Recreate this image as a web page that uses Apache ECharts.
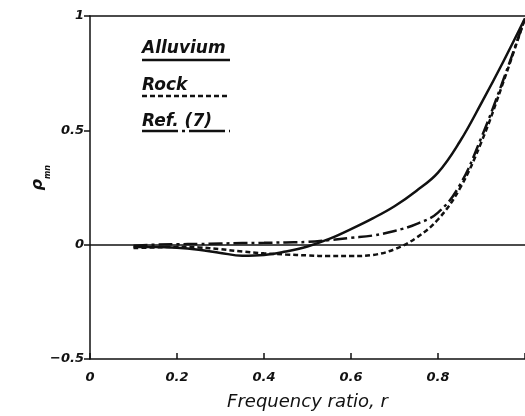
<!DOCTYPE html>
<html><head><meta charset="utf-8">
<script src="https://cdn.jsdelivr.net/npm/echarts@6/dist/echarts.min.js"></script>
<style>html,body{margin:0;padding:0;background:#fff}#c{width:525px;height:416px}</style>
</head><body><div id="c"></div>
<script>
const r = [0.1,0.15,0.2,0.25,0.3,0.35,0.4,0.45,0.5,0.55,0.6,0.65,0.7,0.75,0.8,0.85,0.9,0.95,1.0];
const alluvium = [-0.01,-0.01,-0.013,-0.022,-0.036,-0.048,-0.045,-0.03,-0.008,0.025,0.068,0.115,0.168,0.235,0.315,0.45,0.62,0.8,0.99];
const rock = [-0.015,-0.012,-0.01,-0.012,-0.02,-0.03,-0.038,-0.043,-0.047,-0.05,-0.05,-0.045,-0.02,0.03,0.11,0.245,0.45,0.71,0.99];
const ref7 = [-0.005,0,0.002,0.003,0.005,0.007,0.008,0.01,0.012,0.02,0.03,0.04,0.06,0.09,0.14,0.26,0.47,0.72,0.99];
const xTicks = ['0','0.2','0.4','0.6','0.8'];
const yTicks = {'-0.5':'\u22120.5','0':'0','0.5':'0.5','1':'1'};

const pair = a => r.map((x,i)=>[x,a[i]]);
const F = '"DejaVu Sans", sans-serif';
const chart = echarts.init(document.getElementById('c'));
const lblStyle = {fontFamily:F, fontStyle:'italic', fontWeight:'bold', fontSize:13, color:'#111'};
chart.setOption({
  animation:false,
  grid:{left:90, right:0, top:16, bottom:57, containLabel:false, outerBoundsMode:'none'},
  xAxis:[{type:'value', min:0, max:1, interval:0.2,
    axisLine:{onZero:false, lineStyle:{color:'#111', width:1.5}},
    axisTick:{inside:true, length:6, lineStyle:{color:'#111', width:1.5}},
    axisLabel:Object.assign({margin:12, formatter:v=>{const i=Math.round(v/0.2);return i<xTicks.length?xTicks[i]:'';}}, lblStyle),
    splitLine:{show:false},
    name:'Frequency ratio, r', nameLocation:'middle', nameGap:34,
    nameTextStyle:{fontFamily:F, fontStyle:'italic', fontSize:18, color:'#111'}},
   {type:'value', position:'top', min:0, max:1, axisLine:{show:true, onZero:false, lineStyle:{color:'#111', width:1.5}},
    axisTick:{show:false}, axisLabel:{show:false}, splitLine:{show:false}}],
  yAxis:{type:'value', min:-0.5, max:1, interval:0.5,
    axisLine:{onZero:false, lineStyle:{color:'#111', width:1.5}},
    axisTick:{length:6, lineStyle:{color:'#111', width:1.5}},
    axisLabel:Object.assign({margin:6, formatter:v=>yTicks[String(v)]||''}, lblStyle),
    splitLine:{show:false}},
  graphic:[
    {type:'text', left:30, top:165, rotation:Math.PI/2, style:{
      rich:{a:{fontFamily:F, fontStyle:'italic', fontWeight:'bold', fontSize:16, fill:'#111'},
            b:{fontFamily:F, fontStyle:'italic', fontWeight:'bold', fontSize:8, fill:'#111', verticalAlign:'bottom', padding:[0,0,-6,0]}},
      text:'{a|ρ}{b|mn}'}},
    {type:'text', left:142, top:40, style:{text:'Alluvium', fontFamily:F, fontStyle:'italic', fontWeight:'bold', fontSize:17, fill:'#111'}},
    {type:'line', shape:{x1:142,y1:60,x2:230,y2:60}, style:{stroke:'#111', lineWidth:2.5}},
    {type:'text', left:142, top:77, style:{text:'Rock', fontFamily:F, fontStyle:'italic', fontWeight:'bold', fontSize:17, fill:'#111'}},
    {type:'line', shape:{x1:142,y1:96,x2:230,y2:96}, style:{stroke:'#111', lineWidth:2.5, lineDash:[5,3]}},
    {type:'text', left:142, top:113, style:{text:'Ref. (7)', fontFamily:F, fontStyle:'italic', fontWeight:'bold', fontSize:17, fill:'#111'}},
    {type:'line', shape:{x1:142,y1:131,x2:230,y2:131}, style:{stroke:'#111', lineWidth:2.5, lineDash:[36,4,3,4]}}
  ],
  series:[
    {type:'line', name:'Alluvium', data:pair(alluvium), smooth:0.4, showSymbol:false,
     lineStyle:{color:'#111', width:2.5},
     markLine:{silent:true, symbol:'none', label:{show:false}, lineStyle:{color:'#111', width:1.5, type:'solid'}, data:[{yAxis:0}]}},
    {type:'line', name:'Rock', data:pair(rock), smooth:0.4, showSymbol:false,
     lineStyle:{color:'#111', width:2.5, type:[5,3]}},
    {type:'line', name:'Ref. (7)', data:pair(ref7), smooth:0.4, showSymbol:false,
     lineStyle:{color:'#111', width:2.5, type:[14,4,3,4]}}
  ]
});
</script></body></html>
